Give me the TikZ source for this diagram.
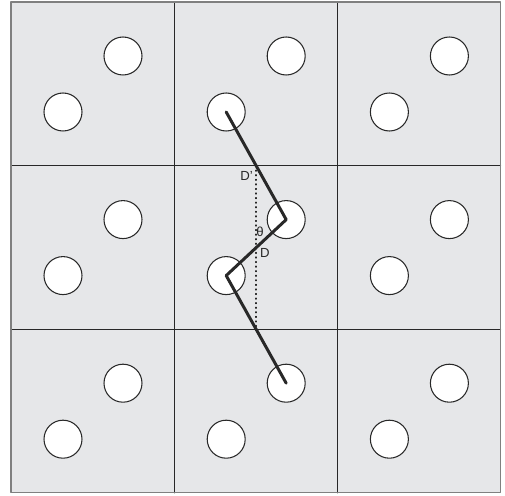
\documentclass[tikz,border=0pt]{standalone}
\usepackage{fontspec}
\setsansfont{Liberation Sans}
\definecolor{cellgray}{RGB}{230,231,233}
\definecolor{inkgray}{RGB}{40,40,40}

\tikzset{
  pore/.style={circle,draw=inkgray,line width=0.6pt,fill=white,
    minimum size=38*0.02cm,inner sep=0pt},
  walk/.style={inkgray,line width=1.7pt},
  lbl/.style={font=\sffamily\fontsize{7.5}{8}\selectfont,inkgray,inner sep=0pt}
}

\begin{document}
\begin{tikzpicture}[x=0.02cm,y=-0.02cm,line cap=round,line join=round]
        \useasboundingbox (0,0) rectangle (505,496);
        % Celdas periodicas
        \fill[cellgray] (11,2) rectangle (500.5,492.7);
        \foreach \i in {1,2} {
            \draw[inkgray,line width=0.75pt] ({11+163.2*\i},2) -- ({11+163.2*\i},492.7);
            \draw[inkgray,line width=0.75pt] (11,{2+163.6*\i}) -- (500.5,{2+163.6*\i});
        }
        \draw[gray,line width=0.9pt] (11,2) rectangle (500.5,492.7);

        % Dos poros por celda
        \foreach \i in {0,1,2} {
            \foreach \j in {0,1,2} {
                \node[pore] (c-\i-\j-a) at ({11+163.2*\i+112},{2+163.6*\j+54}) {};
                \node[pore] (c-\i-\j-b) at ({11+163.2*\i+52},{2+163.6*\j+110}) {};
            }
        }

        % Trayectoria
        \draw[walk] (c-1-0-b.center) -- (c-1-1-a.center)
            -- (c-1-1-b.center) -- (c-1-2-a.center);

        % Proyeccion vertical
        \coordinate (top) at (256,165.6);
        \coordinate (bot) at (256,329.2);
        \draw[inkgray,dotted,line width=0.6pt] (top) -- (bot);
        \node[lbl] (dp) at (246.5,176) {D’};
        \node[lbl] (th) at (260,232) {θ};
        \node[lbl] (d) at (265,253) {D};
    \end{tikzpicture}
\end{document}
